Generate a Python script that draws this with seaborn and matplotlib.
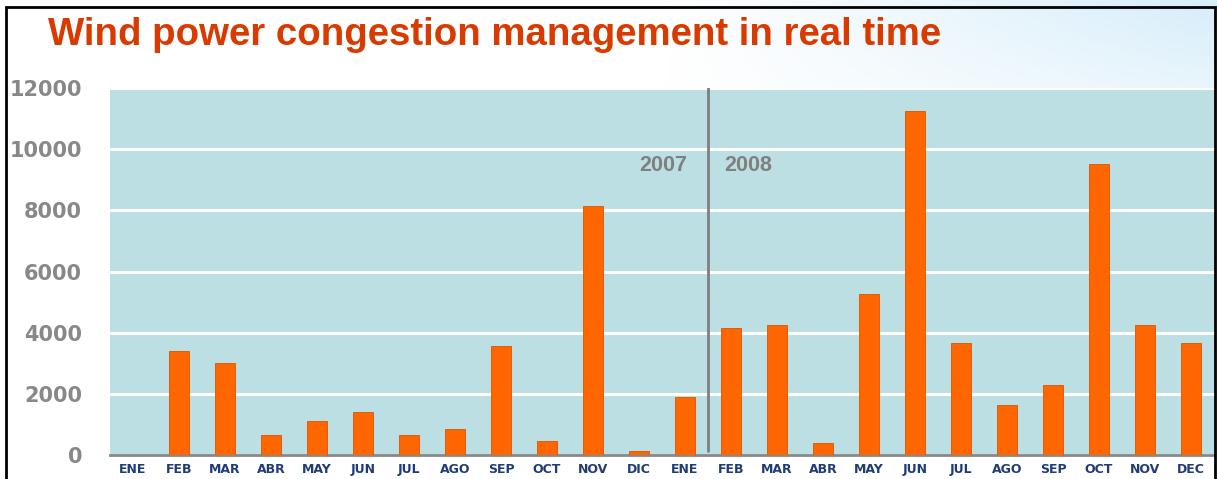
import numpy as np
import pandas as pd
import matplotlib
matplotlib.use("Agg")
import matplotlib.pyplot as plt
import seaborn as sns
from matplotlib.patches import Rectangle

# monthly values (2007 + ENE 2008 | FEB..DEC 2008)
months = ["ENE", "FEB", "MAR", "ABR", "MAY", "JUN", "JUL", "AGO", "SEP", "OCT", "NOV", "DIC",
          "ENE", "FEB", "MAR", "ABR", "MAY", "JUN", "JUL", "AGO", "SEP", "OCT", "NOV", "DEC"]
values = [0, 3400, 3000, 650, 1100, 1400, 650, 850, 3550, 450, 8150, 120,
          1900, 4150, 4250, 400, 5250, 11250, 3650, 1650, 2300, 9500, 4250, 3650]
yticks = [0, 2000, 4000, 6000, 8000, 10000, 12000]
year_labels = ["2007", "2008"]

df = pd.DataFrame({"slot": [f"{m}_{i}" for i, m in enumerate(months)], "value": values})

sns.set_style("white")
fig = plt.figure(figsize=(12.17, 4.79), dpi=100)

# light gradient in the header area
bg = fig.add_axes([0, 0, 1, 1], zorder=-10)
gx = np.linspace(0, 1, 300)
gy = np.linspace(0, 1, 100)
X, Y = np.meshgrid(gx, gy)
g = np.clip((X - 0.55) / 0.45, 0, 1) * np.clip((Y - 0.6) / 0.4, 0, 1)
top = np.array([0.84, 0.93, 0.98])
img = np.ones((100, 300, 3)) * (1 - g[..., None]) + top * g[..., None]
bg.imshow(img, origin="lower", extent=[0, 1, 0, 1], aspect="auto")
bg.set_axis_off()
fig.patches.append(Rectangle((6 / 1217, -0.1), 1209 / 1217, 1.1 - 7 / 479, transform=fig.transFigure,
                             fill=False, edgecolor="black", linewidth=2, zorder=5))

ax = fig.add_axes([110 / 1217, 1 - 455 / 479, 1104 / 1217, (455 - 88) / 479])
sns.barplot(data=df, x="slot", y="value", color="#FF6600", width=0.44, saturation=1,
            edgecolor="#D85500", linewidth=0.6, ax=ax, zorder=3)
ax.set_facecolor("#BBDFE2")
ax.set_xlim(-0.5, len(months) - 0.5)
ax.set_ylim(0, 12000)
ax.set_yticks(yticks)
ax.set_yticklabels([str(v) for v in yticks], fontsize=15, fontweight="bold", color="#888888",
                   family="DejaVu Sans")
ax.yaxis.grid(True, color="white", linewidth=2.2)
ax.set_axisbelow(True)
ax.tick_params(axis="y", length=0, pad=20)

ax.set_xticks(range(len(months)))
ax.set_xticklabels(months, fontsize=9, fontweight="bold", color="#1F3C78", family="DejaVu Sans")
ax.set_xticks(np.arange(-0.5, len(months)), minor=True)
ax.tick_params(axis="x", which="major", length=0, pad=6)
ax.tick_params(axis="x", which="minor", length=4, width=2, color="#888888", direction="out")
ax.set_xlabel("")
ax.set_ylabel("")
for s in ["top", "right", "left"]:
    ax.spines[s].set_visible(False)
ax.spines["bottom"].set_color("#888888")
ax.spines["bottom"].set_linewidth(2)

ax.axvline(12.5, ymin=0.01, ymax=1, color="#7F7F7F", linewidth=2, zorder=4)
ax.text(12.5 - 0.45, 9450, year_labels[0], ha="right", va="center", fontsize=15.5,
        color="#808080", family="Liberation Sans", fontweight="bold")
ax.text(12.5 + 0.35, 9450, year_labels[1], ha="left", va="center", fontsize=15.5,
        color="#808080", family="Liberation Sans", fontweight="bold")

fig.text(48 / 1217, 1 - 45 / 479, "Wind power congestion management in real time",
         fontsize=27.6, fontweight="bold", color="#D83A00", family="Liberation Sans",
         va="baseline", ha="left")

fig.savefig("out.png", dpi=100)
